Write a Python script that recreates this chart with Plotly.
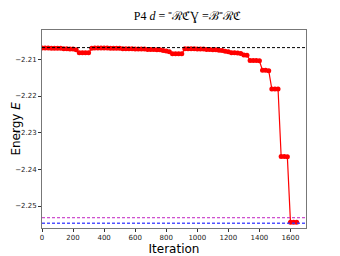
import plotly.graph_objects as go

iterations = list(range(0, 1660, 20))
energy = [
    -2.2069, -2.2069, -2.2069, -2.2070, -2.2070, -2.2070, -2.2070, -2.2071, -2.2071, -2.2072,
    -2.2072, -2.2074, -2.2082, -2.2082, -2.2082, -2.2082, -2.2070, -2.2069, -2.2069, -2.2069,
    -2.2069, -2.2069, -2.2070, -2.2070, -2.2070, -2.2070, -2.2071, -2.2071, -2.2071, -2.2071,
    -2.2072, -2.2072, -2.2072, -2.2072, -2.2073, -2.2073, -2.2073, -2.2074, -2.2074, -2.2076,
    -2.2077, -2.2079, -2.2085, -2.2085, -2.2085, -2.2085, -2.2071, -2.2071, -2.2071, -2.2071,
    -2.2072, -2.2072, -2.2072, -2.2073, -2.2073, -2.2074, -2.2074, -2.2075, -2.2076, -2.2078,
    -2.2079, -2.2082, -2.2082, -2.2083, -2.2084, -2.2088, -2.2089, -2.2103, -2.2103, -2.2103,
    -2.2104, -2.2130, -2.2130, -2.2131, -2.2181, -2.2181, -2.2181, -2.2365, -2.2365, -2.2366,
    -2.2544, -2.2544, -2.2544,
]
ref_black = -2.2068
ref_magenta = -2.2532
ref_blue = -2.2547
x_ticks = [0, 200, 400, 600, 800, 1000, 1200, 1400, 1600]
y_ticks = [-2.21, -2.22, -2.23, -2.24, -2.25]

fig = go.Figure()
fig.add_trace(go.Scatter(
    x=iterations[:len(energy)], y=energy, mode="lines+markers",
    line=dict(color="red", width=1.2),
    marker=dict(color="red", size=5),
    showlegend=False,
))

for yv, col, w in [(ref_black, "black", 1), (ref_magenta, "#c020c0", 1), (ref_blue, "rgba(50,50,255,0.85)", 1.5)]:
    fig.add_shape(type="line", xref="paper", x0=0, x1=1, yref="y", y0=yv, y1=yv,
                  line=dict(color=col, width=w, dash="3px,2px"), layer="above")

fig.add_annotation(text="Energy <i>E</i>", xref="paper", yref="paper", x=-0.1, y=0.5,
                   xanchor="center", yanchor="middle", textangle=-90, showarrow=False,
                   font=dict(family="DejaVu Sans", size=12, color="black"))

axis_common = dict(showgrid=False, zeroline=False, showline=True, linecolor="#777", linewidth=1,
                   mirror=True, ticks="outside", ticklen=3, tickcolor="#333", automargin=False,
                   tickfont=dict(family="DejaVu Sans", size=7, color="#222"))
fig.update_layout(
    width=332, height=248,
    margin=dict(l=34, r=34, t=22, b=28),
    paper_bgcolor="white", plot_bgcolor="white",
    title=dict(text="P4 <i>d</i> = ⁼ℛℭ̈Ɣ =ℬ⁼ℛℭ", x=0.54, xanchor="center", y=0.97, yanchor="middle",
               font=dict(family="Liberation Serif", size=12, color="black")),
    xaxis=dict(range=[0, 1700], tickvals=x_ticks,
               title=dict(text="Iteration", font=dict(family="DejaVu Sans", size=12, color="black"), standoff=4),
               **axis_common),
    yaxis=dict(range=[-2.2560, -2.2020], tickvals=y_ticks, tickformat=".2f", **axis_common),
)
fig.write_html("out.html")
